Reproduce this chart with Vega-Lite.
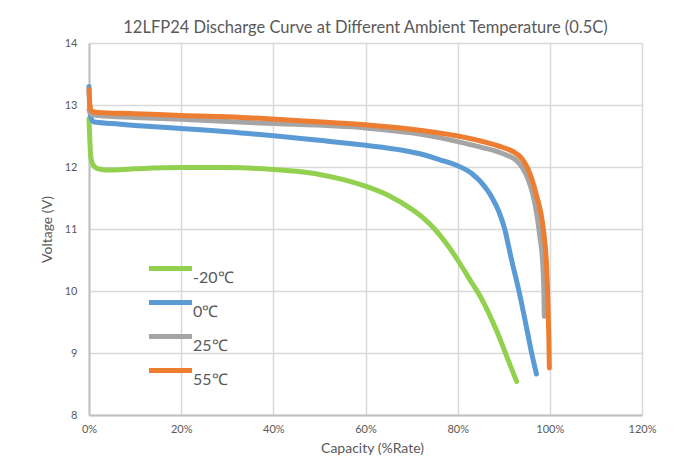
{
  "$schema": "https://vega.github.io/schema/vega-lite/v6.json",
  "width": 553,
  "height": 372,
  "autosize": {"type": "none"},
  "padding": {"left": 89, "top": 43, "right": 47, "bottom": 48},
  "background": "white",
  "title": {
    "text": "12LFP24 Discharge Curve at Different Ambient Temperature (0.5C)",
    "frame": "group",
    "anchor": "middle",
    "offset": 1,
    "fontSize": 16.5,
    "font": "Lato",
    "fontWeight": "normal",
    "color": "#595959"
  },
  "config": {
    "view": {"stroke": null},
    "font": "Lato"
  },
  "data": {
    "values": [
      {"t": "-20℃", "c": 0, "v": 12.78},
      {"t": "-20℃", "c": 0.002, "v": 12.4},
      {"t": "-20℃", "c": 0.004, "v": 12.15},
      {"t": "-20℃", "c": 0.01, "v": 12.02},
      {"t": "-20℃", "c": 0.02, "v": 11.97},
      {"t": "-20℃", "c": 0.04, "v": 11.95},
      {"t": "-20℃", "c": 0.1, "v": 11.97},
      {"t": "-20℃", "c": 0.2, "v": 11.99},
      {"t": "-20℃", "c": 0.3, "v": 11.99},
      {"t": "-20℃", "c": 0.4, "v": 11.96},
      {"t": "-20℃", "c": 0.45, "v": 11.93},
      {"t": "-20℃", "c": 0.5, "v": 11.88},
      {"t": "-20℃", "c": 0.55, "v": 11.8},
      {"t": "-20℃", "c": 0.6, "v": 11.69},
      {"t": "-20℃", "c": 0.65, "v": 11.54},
      {"t": "-20℃", "c": 0.7, "v": 11.32},
      {"t": "-20℃", "c": 0.725, "v": 11.18},
      {"t": "-20℃", "c": 0.75, "v": 11.0},
      {"t": "-20℃", "c": 0.775, "v": 10.77},
      {"t": "-20℃", "c": 0.8, "v": 10.5},
      {"t": "-20℃", "c": 0.825, "v": 10.2},
      {"t": "-20℃", "c": 0.85, "v": 9.9},
      {"t": "-20℃", "c": 0.885, "v": 9.35},
      {"t": "-20℃", "c": 0.913, "v": 8.82},
      {"t": "-20℃", "c": 0.928, "v": 8.54},
      {"t": "0℃", "c": 0, "v": 13.3},
      {"t": "0℃", "c": 0.002, "v": 12.9},
      {"t": "0℃", "c": 0.005, "v": 12.78},
      {"t": "0℃", "c": 0.01, "v": 12.73},
      {"t": "0℃", "c": 0.05, "v": 12.7},
      {"t": "0℃", "c": 0.1, "v": 12.67},
      {"t": "0℃", "c": 0.2, "v": 12.62},
      {"t": "0℃", "c": 0.33, "v": 12.55},
      {"t": "0℃", "c": 0.5, "v": 12.43},
      {"t": "0℃", "c": 0.6, "v": 12.35},
      {"t": "0℃", "c": 0.68, "v": 12.27},
      {"t": "0℃", "c": 0.72, "v": 12.21},
      {"t": "0℃", "c": 0.76, "v": 12.12},
      {"t": "0℃", "c": 0.8, "v": 12.02},
      {"t": "0℃", "c": 0.83, "v": 11.9},
      {"t": "0℃", "c": 0.864, "v": 11.63},
      {"t": "0℃", "c": 0.875, "v": 11.5},
      {"t": "0℃", "c": 0.89, "v": 11.27},
      {"t": "0℃", "c": 0.902, "v": 11.0},
      {"t": "0℃", "c": 0.917, "v": 10.5},
      {"t": "0℃", "c": 0.933, "v": 10.0},
      {"t": "0℃", "c": 0.947, "v": 9.5},
      {"t": "0℃", "c": 0.9605, "v": 9.0},
      {"t": "0℃", "c": 0.971, "v": 8.66},
      {"t": "25℃", "c": 0, "v": 12.92},
      {"t": "25℃", "c": 0.005, "v": 12.85},
      {"t": "25℃", "c": 0.02, "v": 12.83},
      {"t": "25℃", "c": 0.1, "v": 12.8},
      {"t": "25℃", "c": 0.2, "v": 12.77},
      {"t": "25℃", "c": 0.37, "v": 12.71},
      {"t": "25℃", "c": 0.6, "v": 12.63},
      {"t": "25℃", "c": 0.7, "v": 12.55},
      {"t": "25℃", "c": 0.8, "v": 12.41},
      {"t": "25℃", "c": 0.85, "v": 12.32},
      {"t": "25℃", "c": 0.9, "v": 12.21},
      {"t": "25℃", "c": 0.928, "v": 12.1},
      {"t": "25℃", "c": 0.942, "v": 11.97},
      {"t": "25℃", "c": 0.955, "v": 11.76},
      {"t": "25℃", "c": 0.963, "v": 11.56},
      {"t": "25℃", "c": 0.971, "v": 11.27},
      {"t": "25℃", "c": 0.978, "v": 10.9},
      {"t": "25℃", "c": 0.9845, "v": 10.45},
      {"t": "25℃", "c": 0.987, "v": 10.0},
      {"t": "25℃", "c": 0.988, "v": 9.59},
      {"t": "55℃", "c": 0, "v": 13.25},
      {"t": "55℃", "c": 0.002, "v": 13.0},
      {"t": "55℃", "c": 0.005, "v": 12.9},
      {"t": "55℃", "c": 0.02, "v": 12.88},
      {"t": "55℃", "c": 0.1, "v": 12.86},
      {"t": "55℃", "c": 0.2, "v": 12.83},
      {"t": "55℃", "c": 0.33, "v": 12.8},
      {"t": "55℃", "c": 0.45, "v": 12.75},
      {"t": "55℃", "c": 0.6, "v": 12.68},
      {"t": "55℃", "c": 0.7, "v": 12.61},
      {"t": "55℃", "c": 0.8, "v": 12.5},
      {"t": "55℃", "c": 0.85, "v": 12.42},
      {"t": "55℃", "c": 0.9, "v": 12.31},
      {"t": "55℃", "c": 0.92, "v": 12.25},
      {"t": "55℃", "c": 0.94, "v": 12.13},
      {"t": "55℃", "c": 0.952, "v": 11.98},
      {"t": "55℃", "c": 0.962, "v": 11.78},
      {"t": "55℃", "c": 0.972, "v": 11.52},
      {"t": "55℃", "c": 0.982, "v": 11.2},
      {"t": "55℃", "c": 0.989, "v": 10.8},
      {"t": "55℃", "c": 0.993, "v": 10.4},
      {"t": "55℃", "c": 0.996, "v": 9.8},
      {"t": "55℃", "c": 0.998, "v": 9.2},
      {"t": "55℃", "c": 0.999, "v": 8.76}
    ]
  },
  "mark": {"type": "line", "strokeWidth": 5, "strokeCap": "round", "strokeJoin": "round", "interpolate": "monotone"},
  "encoding": {
    "x": {
      "field": "c",
      "type": "quantitative",
      "scale": {"domain": [0, 1.2], "nice": false},
      "axis": {
        "values": [0, 0.2, 0.4, 0.6, 0.8, 1.0, 1.2],
        "format": ".0%",
        "title": "Capacity (%Rate)",
        "titleFontSize": 14,
        "titleFontWeight": "normal",
        "titleColor": "#595959",
        "titleX": 283,
        "titleY": 33,
        "titleBaseline": "middle",
        "labelFontSize": 11,
        "labelColor": "#595959",
        "labelPadding": 8,
        "ticks": false,
        "tickSize": 0,
        "domainColor": "#bfbfbf",
        "domainWidth": 2,
        "gridColor": "#d9d9d9",
        "gridWidth": 1.5,
        "labelFlush": false
      }
    },
    "y": {
      "field": "v",
      "type": "quantitative",
      "scale": {"domain": [8, 14], "nice": false, "zero": false},
      "axis": {
        "values": [8, 9, 10, 11, 12, 13, 14],
        "title": "Voltage (V)",
        "titleFontSize": 14,
        "titleFontWeight": "normal",
        "titleColor": "#595959",
        "titleX": -42,
        "titleY": 186,
        "titleBaseline": "middle",
        "labelFontSize": 11,
        "labelColor": "#595959",
        "labelPadding": 12,
        "ticks": false,
        "tickSize": 0,
        "domainColor": "#bfbfbf",
        "domainWidth": 2,
        "gridColor": "#d9d9d9",
        "gridWidth": 1.5
      }
    },
    "color": {
      "field": "t",
      "type": "nominal",
      "scale": {
        "domain": ["-20℃", "0℃", "25℃", "55℃"],
        "range": ["#92d050", "#5b9bd5", "#a5a5a5", "#ed7d31"]
      },
      "legend": {
        "title": null,
        "orient": "none",
        "legendX": 68,
        "legendY": 212,
        "padding": 0,
        "symbolType": "M-2,0H2",
        "symbolSize": 462,
        "symbolStrokeWidth": 5,
        "labelFontSize": 16,
        "labelColor": "#595959",
        "labelBaseline": "line-top",
        "labelLineHeight": 10,
        "labelOffset": 9,
        "rowPadding": 3
      }
    }
  }
}
